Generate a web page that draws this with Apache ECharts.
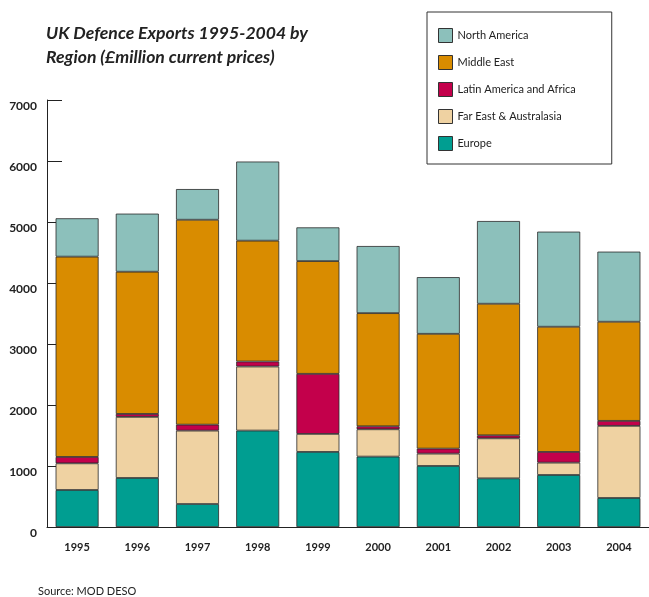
<!DOCTYPE html>
<html>
<head>
<meta charset="utf-8">
<script src="https://cdn.jsdelivr.net/npm/echarts@6/dist/echarts.min.js"></script>
<style>
  html, body { margin: 0; padding: 0; background: #fff; }
  #chart { width: 649px; height: 597px; }
</style>
</head>
<body>
<div id="chart"></div>
<script>
const years = ["1995", "1996", "1997", "1998", "1999", "2000", "2001", "2002", "2003", "2004"];

// £million, stacked bottom to top
const europe      = [607, 804, 377, 1581, 1231, 1154, 1001, 798, 853, 476];
const farEast     = [437, 1001, 1203, 1050, 295, 448, 202, 656, 202, 1182];
const latinAfrica = [105, 49, 98, 82, 985, 49, 82, 49, 176, 82];
const middleEast  = [3283, 2331, 3359, 1981, 1848, 1855, 1882, 2157, 2052, 1625];
const northAm     = [629, 952, 503, 1297, 553, 1100, 929, 1356, 1559, 1149];

const yTicks = [0, 1000, 2000, 3000, 4000, 5000, 6000, 7000];

const regions = [
    {name: "Europe", data: europe, color: "#009e91"},
    {name: "Far East & Australasia", data: farEast, color: "#efd2a2"},
    {name: "Latin America and Africa", data: latinAfrica, color: "#c3004b"},
    {name: "Middle East", data: middleEast, color: "#d98c00"},
    {name: "North America", data: northAm, color: "#8cc0bb"}
];

const chart = echarts.init(document.getElementById("chart"));

const option = {
    animation: false,
    textStyle: {fontFamily: "Lato"},
    title: {
        text: "UK Defence Exports 1995-2004 by\nRegion (£million current prices)",
        left: 41,
        top: 16,
        textStyle: {
            fontSize: 17.6,
            fontWeight: "bold",
            fontStyle: "italic",
            color: "#222",
            lineHeight: 24,
            fontFamily: "Lato"
        }
    },
    legend: {
        orient: "vertical",
        left: 427,
        top: 12,
        padding: [16, 36, 13, 11],
        itemGap: 12,
        itemWidth: 14,
        itemHeight: 14,
        borderColor: "#333",
        borderWidth: 1,
        backgroundColor: "#fff",
        icon: "rect",
        itemStyle: {borderColor: "#333", borderWidth: 1},
        textStyle: {fontSize: 11, color: "#222"},
        data: ["North America", "Middle East", "Latin America and Africa", "Far East & Australasia", "Europe"]
    },
    graphic: [{
        type: "text",
        left: 38,
        top: 586,
        style: {text: "Source: MOD DESO", fontSize: 11, fill: "#222", fontFamily: "Lato"}
    }],
    grid: {left: 47, right: 0, top: 100, bottom: 70},
    xAxis: {
        type: "category",
        data: years,
        axisLine: {lineStyle: {color: "#222", width: 1}},
        axisTick: {inside: true, length: 10, lineStyle: {color: "#222"}},
        axisLabel: {fontSize: 11, fontWeight: "bold", color: "#222", margin: 15}
    },
    yAxis: {
        type: "value",
        min: yTicks[0],
        max: yTicks[yTicks.length - 1],
        interval: 1000,
        splitLine: {show: false},
        axisLine: {show: true, lineStyle: {color: "#222", width: 1}},
        axisTick: {show: true, inside: true, length: 15, lineStyle: {color: "#222"}},
        axisLabel: {
            fontSize: 12,
            fontWeight: "bold",
            color: "#222",
            margin: 10,
            verticalAlign: "top",
            formatter: v => String(v)
        }
    },
    series: regions.map(r => ({
        name: r.name,
        type: "bar",
        stack: "total",
        barWidth: 43,
        data: r.data,
        itemStyle: {color: r.color, borderColor: "#2a2a2a", borderWidth: 0.8}
    }))
};

chart.setOption(option);
</script>
</body>
</html>
